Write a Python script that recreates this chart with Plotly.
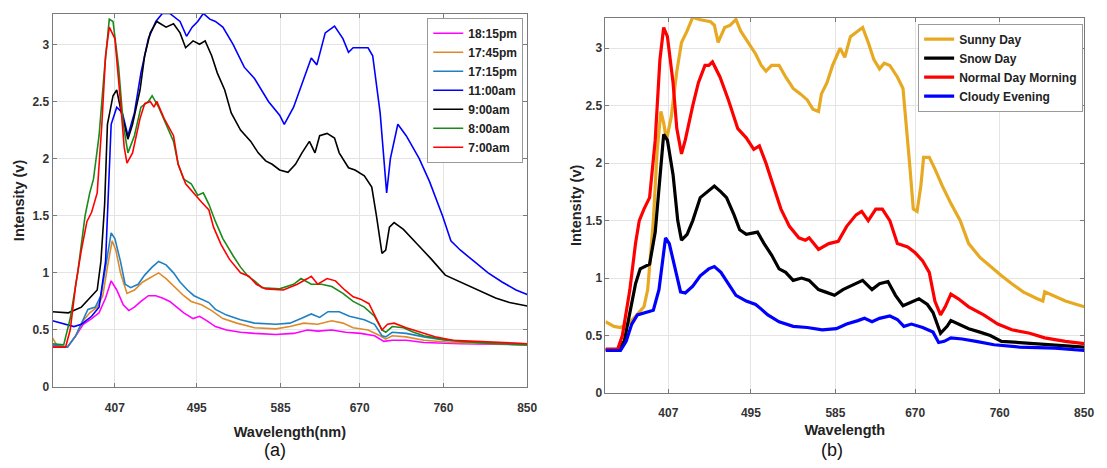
import plotly.graph_objects as go

# ---------------- Panel (a) data ----------------
wl_1815 = [340, 356, 365, 373, 382, 390, 397, 403, 409, 416, 422, 428, 435, 443, 451, 458, 466, 473, 481, 491, 498, 506, 515, 527, 542, 557, 580, 599, 614, 625, 640, 655, 671, 686, 696, 705, 720, 739, 778, 850]
v_1815 = [0.36, 0.35, 0.45, 0.55, 0.60, 0.65, 0.78, 0.93, 0.85, 0.72, 0.67, 0.70, 0.75, 0.80, 0.80, 0.78, 0.75, 0.70, 0.65, 0.60, 0.62, 0.58, 0.53, 0.50, 0.48, 0.47, 0.46, 0.47, 0.50, 0.49, 0.50, 0.48, 0.47, 0.45, 0.40, 0.41, 0.41, 0.39, 0.38, 0.37]

wl_1745 = [340, 346, 356, 365, 373, 380, 388, 394, 399, 404, 408, 413, 420, 428, 437, 447, 454, 462, 472, 481, 489, 500, 511, 523, 538, 557, 580, 595, 610, 625, 640, 652, 663, 679, 692, 698, 705, 720, 739, 770, 850]
v_1745 = [0.43, 0.35, 0.35, 0.45, 0.58, 0.65, 0.70, 0.80, 1.05, 1.28, 1.20, 1.00, 0.82, 0.85, 0.92, 0.97, 1.00, 0.95, 0.87, 0.80, 0.75, 0.72, 0.67, 0.60, 0.56, 0.52, 0.51, 0.53, 0.56, 0.55, 0.58, 0.56, 0.52, 0.50, 0.45, 0.42, 0.45, 0.44, 0.41, 0.39, 0.37]

wl_1715 = [340, 356, 365, 373, 378, 386, 392, 397, 403, 407, 413, 418, 424, 432, 439, 447, 454, 462, 470, 477, 485, 492, 500, 508, 515, 527, 542, 557, 580, 595, 607, 618, 627, 636, 648, 659, 675, 686, 694, 698, 705, 720, 739, 762, 797, 850]
v_1715 = [0.37, 0.35, 0.45, 0.60, 0.68, 0.70, 0.80, 1.05, 1.35, 1.30, 1.10, 0.90, 0.87, 0.90, 0.98, 1.05, 1.10, 1.07, 1.00, 0.92, 0.85, 0.80, 0.77, 0.74, 0.68, 0.63, 0.59, 0.56, 0.55, 0.56, 0.60, 0.64, 0.61, 0.66, 0.66, 0.62, 0.59, 0.55, 0.45, 0.44, 0.48, 0.47, 0.44, 0.41, 0.39, 0.38]

wl_1100 = [340, 363, 371, 382, 390, 397, 403, 409, 415, 421, 428, 435, 443, 451, 458, 466, 477, 484, 490, 496, 502, 509, 515, 523, 534, 546, 557, 572, 584, 589, 599, 610, 618, 624, 633, 643, 652, 658, 663, 679, 684, 692, 699, 703, 711, 720, 734, 745, 759, 768, 778, 793, 808, 823, 838, 850]
v_1100 = [0.58, 0.53, 0.55, 0.62, 0.70, 1.10, 2.30, 2.45, 2.40, 2.20, 2.40, 2.75, 3.05, 3.20, 3.27, 3.27, 3.20, 3.07, 3.15, 3.20, 3.27, 3.22, 3.20, 3.15, 3.00, 2.80, 2.70, 2.50, 2.38, 2.30, 2.45, 2.70, 2.88, 2.82, 3.10, 3.16, 3.05, 2.93, 2.97, 2.97, 2.90, 2.40, 1.70, 2.00, 2.30, 2.20, 2.00, 1.80, 1.50, 1.28, 1.20, 1.10, 1.00, 0.92, 0.85, 0.81]

wl_0900 = [340, 357, 371, 380, 388, 392, 396, 399, 405, 409, 414, 421, 426, 434, 439, 445, 452, 462, 470, 477, 483, 491, 498, 504, 511, 517, 525, 532, 542, 553, 561, 569, 576, 584, 593, 601, 608, 616, 622, 627, 635, 643, 648, 658, 665, 675, 683, 688, 694, 698, 702, 707, 717, 732, 747, 762, 778, 797, 816, 831, 850]
v_0900 = [0.66, 0.65, 0.70, 0.78, 0.85, 1.10, 1.60, 2.30, 2.55, 2.60, 2.40, 2.17, 2.30, 2.60, 2.90, 3.10, 3.20, 3.15, 3.18, 3.10, 2.97, 3.03, 3.00, 3.03, 2.90, 2.75, 2.60, 2.40, 2.25, 2.15, 2.05, 1.98, 1.95, 1.90, 1.88, 1.95, 2.05, 2.15, 2.05, 2.20, 2.22, 2.18, 2.05, 1.92, 1.90, 1.85, 1.75, 1.50, 1.17, 1.20, 1.40, 1.44, 1.38, 1.25, 1.12, 0.98, 0.92, 0.85, 0.78, 0.74, 0.71]

wl_0800 = [340, 352, 359, 367, 375, 380, 384, 390, 396, 401, 405, 411, 416, 421, 428, 435, 443, 447, 454, 462, 470, 475, 481, 489, 496, 502, 508, 515, 523, 534, 542, 550, 557, 565, 584, 599, 607, 618, 629, 640, 652, 663, 675, 686, 694, 698, 705, 717, 728, 739, 758, 778, 816, 850]
v_0800 = [0.38, 0.37, 0.60, 1.00, 1.50, 1.70, 1.82, 2.20, 2.80, 3.22, 3.20, 2.80, 2.30, 2.05, 2.20, 2.45, 2.50, 2.55, 2.45, 2.30, 2.15, 1.95, 1.82, 1.78, 1.68, 1.70, 1.60, 1.45, 1.30, 1.15, 1.05, 0.97, 0.93, 0.87, 0.86, 0.90, 0.95, 0.90, 0.90, 0.88, 0.82, 0.75, 0.70, 0.62, 0.50, 0.48, 0.53, 0.52, 0.48, 0.45, 0.42, 0.40, 0.38, 0.37]

wl_0700 = [340, 354, 359, 365, 371, 377, 382, 388, 393, 397, 401, 407, 413, 417, 420, 426, 434, 439, 445, 449, 452, 460, 470, 475, 483, 491, 500, 508, 513, 521, 530, 542, 551, 559, 569, 588, 603, 614, 618, 625, 635, 644, 654, 663, 671, 680, 688, 694, 700, 707, 720, 736, 751, 770, 797, 850]
v_0700 = [0.35, 0.35, 0.50, 0.90, 1.20, 1.45, 1.53, 1.70, 2.30, 2.90, 3.15, 3.05, 2.50, 2.10, 1.96, 2.05, 2.35, 2.48, 2.50, 2.45, 2.50, 2.35, 2.20, 1.95, 1.78, 1.70, 1.62, 1.55, 1.40, 1.25, 1.12, 1.00, 0.97, 0.90, 0.86, 0.85, 0.90, 0.95, 0.97, 0.90, 0.95, 0.93, 0.85, 0.79, 0.77, 0.73, 0.60, 0.50, 0.55, 0.56, 0.52, 0.48, 0.44, 0.41, 0.40, 0.38]

names_a = ["18:15pm", "17:45pm", "17:15pm", "11:00am", "9:00am", "8:00am", "7:00am"]
colors_a = ["#FF00FF", "#DF8A2A", "#1F80C4", "#0000FF", "#000000", "#1A8A1A", "#FF0000"]
series_a = [(wl_1815, v_1815), (wl_1745, v_1745), (wl_1715, v_1715), (wl_1100, v_1100),
            (wl_0900, v_0900), (wl_0800, v_0800), (wl_0700, v_0700)]

# ---------------- Panel (b) data ----------------
wl_sunny = [340, 349, 356, 364, 370, 376, 381, 385, 391, 395, 399, 402, 405, 410, 416, 421, 427, 433, 440, 452, 456, 460, 467, 473, 479, 484, 492, 500, 506, 511, 517, 525, 532, 540, 548, 555, 561, 567, 570, 576, 582, 590, 595, 601, 609, 614, 620, 626, 632, 637, 643, 651, 657, 660, 664, 668, 672, 676, 679, 685, 691, 699, 708, 718, 727, 739, 750, 762, 773, 785, 800, 806, 808, 819, 830, 850]
v_sunny = [0.62, 0.58, 0.57, 0.60, 0.65, 0.70, 0.75, 0.90, 1.50, 2.10, 2.45, 2.35, 2.20, 2.40, 2.80, 3.05, 3.15, 3.27, 3.25, 3.23, 3.20, 3.05, 3.18, 3.20, 3.25, 3.15, 3.05, 2.95, 2.85, 2.80, 2.85, 2.85, 2.75, 2.65, 2.60, 2.55, 2.47, 2.45, 2.60, 2.70, 2.85, 3.00, 2.92, 3.10, 3.15, 3.18, 3.05, 2.90, 2.82, 2.87, 2.85, 2.75, 2.65, 2.40, 2.00, 1.60, 1.58, 1.80, 2.05, 2.05, 1.95, 1.80, 1.65, 1.50, 1.30, 1.18, 1.10, 1.02, 0.95, 0.88, 0.82, 0.80, 0.88, 0.84, 0.80, 0.75]

wl_snow = [340, 353, 360, 366, 372, 377, 383, 387, 393, 398, 402, 406, 412, 417, 421, 427, 433, 441, 448, 456, 463, 469, 477, 483, 490, 502, 509, 517, 525, 532, 540, 549, 557, 567, 574, 584, 593, 605, 614, 624, 632, 641, 649, 657, 668, 674, 683, 689, 697, 704, 708, 716, 727, 739, 750, 762, 781, 800, 819, 850]
v_snow = [0.38, 0.38, 0.45, 0.70, 0.95, 1.08, 1.10, 1.12, 1.40, 1.90, 2.25, 2.20, 1.90, 1.50, 1.33, 1.38, 1.50, 1.70, 1.75, 1.80, 1.75, 1.70, 1.55, 1.42, 1.38, 1.40, 1.30, 1.20, 1.08, 1.05, 0.98, 1.00, 0.98, 0.90, 0.88, 0.85, 0.90, 0.95, 0.98, 0.90, 0.95, 0.97, 0.85, 0.76, 0.80, 0.82, 0.77, 0.70, 0.52, 0.58, 0.63, 0.60, 0.56, 0.53, 0.50, 0.45, 0.44, 0.43, 0.42, 0.40]

wl_normal = [340, 353, 358, 366, 372, 376, 381, 387, 393, 398, 402, 406, 412, 416, 421, 425, 433, 439, 446, 450, 454, 462, 471, 481, 490, 498, 504, 511, 519, 527, 536, 546, 553, 557, 567, 578, 588, 597, 607, 613, 620, 628, 635, 643, 651, 662, 670, 678, 685, 691, 697, 702, 708, 716, 727, 743, 758, 773, 792, 808, 830, 850]
v_normal = [0.38, 0.38, 0.50, 0.90, 1.30, 1.50, 1.60, 1.70, 2.20, 2.90, 3.18, 3.10, 2.70, 2.30, 2.08, 2.20, 2.50, 2.70, 2.85, 2.85, 2.88, 2.75, 2.55, 2.30, 2.22, 2.12, 2.15, 2.00, 1.80, 1.60, 1.45, 1.35, 1.33, 1.35, 1.25, 1.30, 1.32, 1.45, 1.55, 1.58, 1.50, 1.60, 1.60, 1.50, 1.30, 1.27, 1.22, 1.15, 1.05, 0.80, 0.68, 0.75, 0.86, 0.82, 0.75, 0.68, 0.60, 0.55, 0.52, 0.48, 0.45, 0.43]

wl_cloudy = [340, 356, 362, 368, 374, 383, 391, 397, 402, 404, 408, 414, 420, 425, 433, 441, 450, 456, 463, 471, 479, 490, 500, 506, 513, 525, 540, 555, 571, 586, 597, 609, 616, 624, 632, 643, 651, 658, 666, 678, 689, 695, 701, 708, 720, 735, 754, 781, 819, 850]
v_cloudy = [0.37, 0.37, 0.45, 0.60, 0.68, 0.70, 0.72, 0.90, 1.25, 1.35, 1.30, 1.10, 0.88, 0.87, 0.93, 1.02, 1.08, 1.10, 1.05, 0.95, 0.85, 0.80, 0.77, 0.73, 0.68, 0.62, 0.58, 0.57, 0.55, 0.56, 0.60, 0.63, 0.65, 0.62, 0.65, 0.67, 0.64, 0.58, 0.60, 0.57, 0.53, 0.44, 0.45, 0.48, 0.47, 0.45, 0.42, 0.40, 0.39, 0.37]

names_b = ["Sunny Day", "Snow Day", "Normal Day Morning", "Cloudy Evening"]
colors_b = ["#E8A922", "#000000", "#FF0000", "#0000FF"]
series_b = [(wl_sunny, v_sunny), (wl_snow, v_snow), (wl_normal, v_normal), (wl_cloudy, v_cloudy)]

x_ticks = [407, 495, 585, 670, 760, 850]
y_ticks = [0, 0.5, 1, 1.5, 2, 2.5, 3]
y_ticktext = ["0", "0.5", "1", "1.5", "2", "2.5", "3"]

W, H = 1107, 468
FONT = "Liberation Sans, Arial, sans-serif"

fig = go.Figure()
for (x, y), n, c in zip(series_a, names_a, colors_a):
    fig.add_trace(go.Scatter(x=x, y=y, name=n, mode="lines",
                             line=dict(color=c, width=1.6),
                             xaxis="x", yaxis="y", legend="legend"))
for (x, y), n, c in zip(series_b, names_b, colors_b):
    fig.add_trace(go.Scatter(x=x, y=y, name=n, mode="lines",
                             line=dict(color=c, width=3.2),
                             xaxis="x2", yaxis="y2", legend="legend2"))

axis_common = dict(
    showline=True, linecolor="#7a7a7a", linewidth=1, mirror="ticks",
    ticks="inside", ticklen=4, tickcolor="#7a7a7a",
    showgrid=True, gridcolor="#e4e4e4", gridwidth=1, zeroline=False,
    tickfont=dict(family=FONT, size=12, color="#333333", weight="bold"),
)

title_font = dict(family=FONT, size=14.5, color="#222222", weight="bold")

def xax(domain, title, anchor, standoff):
    return dict(axis_common, domain=domain, range=[340, 850], tickvals=x_ticks,
                ticktext=[str(t) for t in x_ticks], anchor=anchor,
                ticklabelstandoff=9,
                title=dict(text=title, standoff=standoff, font=title_font))

def yax(domain, anchor, rng, standoff):
    return dict(axis_common, domain=domain, range=rng, tickvals=y_ticks,
                ticktext=y_ticktext, anchor=anchor,
                title=dict(text="Intensity (v)", standoff=standoff, font=title_font))

legend_font = dict(family=FONT, size=12, color="#222222", weight="bold")

fig.update_layout(
    width=W, height=H, autosize=False,
    margin=dict(l=0, r=0, t=0, b=0),
    paper_bgcolor="white", plot_bgcolor="white",
    xaxis=xax([53 / W, 532 / W], "Wavelength(nm)", "y", 13),
    yaxis=yax([(H - 393) / H, (H - 14) / H], "x", [0, 3.267], 4),
    xaxis2=xax([611 / W, 1094 / W], "Wavelength", "y2", 5),
    yaxis2=yax([(H - 399) / H, (H - 18) / H], "x2", [0, 3.265], 0),
    legend=dict(x=528 / W, y=1 - 18 / H, xanchor="right", yanchor="top",
                bgcolor="white", bordercolor="#9a9a9a", borderwidth=1,
                font=legend_font, tracegroupgap=0, itemwidth=30),
    legend2=dict(x=1093 / W, y=1 - 24 / H, xanchor="right", yanchor="top",
                 bgcolor="white", bordercolor="#9a9a9a", borderwidth=1,
                 font=legend_font, tracegroupgap=0, itemwidth=30),
    annotations=[
        dict(text="(a)", x=278 / W, y=1 - 457 / H, xref="paper", yref="paper",
             xanchor="center", yanchor="middle",
             showarrow=False, font=dict(family=FONT, size=18, color="#111111")),
        dict(text="(b)", x=840 / W, y=1 - 457 / H, xref="paper", yref="paper",
             xanchor="center", yanchor="middle",
             showarrow=False, font=dict(family=FONT, size=18, color="#111111")),
    ],
)

fig.write_html("out.html")
